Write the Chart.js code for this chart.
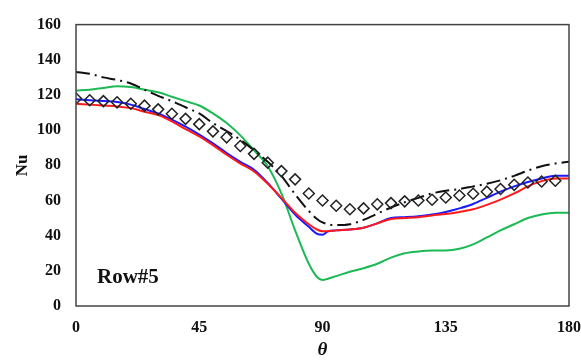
<!DOCTYPE html>
<html>
<head>
<meta charset="utf-8">
<script src="https://cdn.jsdelivr.net/npm/chart.js@4"></script>
<style>
  html, body { margin: 0; padding: 0; background: #fff; }
  #wrap { width: 581px; height: 361px; }
</style>
</head>
<body>
<div id="wrap"><canvas id="nuChart" width="581" height="361"></canvas></div>
<script>
// theta positions for the simulated curves
var thetaLine = [0, 5, 10, 15, 20, 25, 30, 35, 40, 45, 50, 55, 60, 65, 70, 75, 80, 85, 88, 90, 92,
                 95, 100, 105, 110, 115, 120, 125, 130, 135, 140, 145, 150, 155, 160, 165, 170, 175, 180];

var greenNu = [122.5, 123, 124, 125, 124.5, 123, 121.5, 119, 116.5, 114, 109.5, 104, 97, 88.5, 79.5, 64, 43, 24, 16.5, 14.8, 15.5,
               17, 19.5, 21.5, 24, 27.5, 30, 31, 31.5, 31.5, 32.5, 35, 39, 43, 46.5, 50, 52, 53, 53];
var blueNu  = [117.5, 117, 116.5, 116, 114.5, 112, 109.5, 106, 102, 97.5, 92.5, 87, 82, 77.5, 70, 61, 52, 45, 41, 40.5, 42.5,
               43, 43.5, 44.5, 47, 50, 50.5, 51, 52, 53.5, 55.5, 58, 61.5, 65, 68, 70.5, 72.5, 74, 74];
var redNu   = [115, 114.5, 114, 113.5, 112.5, 110.5, 108.5, 105, 100.5, 96.5, 91.5, 86, 81, 76.5, 69.5, 61.5, 53, 46.5, 43.5, 42.5, 42.5,
               43, 43.5, 44.5, 47, 49.5, 50, 50.5, 51.5, 52.3, 53.5, 55, 57.5, 60.5, 64, 68, 71, 72.5, 72.5];
var dashNu  = [133, 132, 130, 128.5, 126.5, 123, 119.5, 116.5, 113, 109.5, 104, 99.5, 94.5, 88.5, 82, 74, 63.5, 54, 49.5, 47.5, 46.5,
               46, 46.5, 49, 52.5, 56, 59, 61.5, 64, 65.5, 66.5, 68, 69.5, 71.5, 74, 77, 79.5, 81, 82];

// experimental points (diamonds)
var thetaExp = [0, 5, 10, 15, 20, 25, 30, 35, 40, 45, 50, 55, 60, 65, 70, 75, 80, 85,
                90, 95, 100, 105, 110, 115, 120, 125, 130, 135, 140, 145, 150, 155, 160, 165, 170, 175];
var expNu    = [118, 117, 116.5, 115.8, 115, 113.9, 111.8, 109.3, 106.4, 103.4, 99.3, 95.9, 91, 86.5, 81.5, 76.7, 72, 64,
                60, 57, 55, 55.5, 57.8, 58.5, 59.5, 60, 60.4, 61.7, 62.8, 63.8, 65, 66.5, 68.9, 70.2, 70.8, 71.2];

var xTicks = [0, 45, 90, 135, 180];
var yTicks = [0, 20, 40, 60, 80, 100, 120, 140, 160];

function pts(xs, ys) {
  return xs.map(function(x, i) { return { x: x, y: ys[i] }; });
}

var serif = 'Liberation Serif';

// frame around the plot + "Row#5" label
var framePlugin = {
  id: 'frame',
  afterDraw: function(chart) {
    var a = chart.chartArea, ctx = chart.ctx;
    ctx.save();
    ctx.strokeStyle = '#444';
    ctx.lineWidth = 1.5;
    ctx.strokeRect(a.left, a.top, a.right - a.left, a.bottom - a.top);
    ctx.fillStyle = '#111';
    ctx.font = 'bold 21px "' + serif + '"';
    ctx.textBaseline = 'alphabetic';
    ctx.fillText('Row#5', a.left + 21, a.bottom - 23);
    ctx.restore();
  }
};

var lineBase = { showLine: true, pointRadius: 0, borderWidth: 2, fill: false, cubicInterpolationMode: 'monotone' };

new Chart(document.getElementById('nuChart'), {
  type: 'scatter',
  data: {
    datasets: [
      { label: 'Exp', data: pts(thetaExp, expNu), showLine: false, pointStyle: 'rectRot', pointRadius: 5.5,
        borderColor: '#222', borderWidth: 1.5, backgroundColor: 'rgba(0,0,0,0)' },
      Object.assign({ label: 'dash', data: pts(thetaLine, dashNu), borderColor: '#111', borderDash: [14, 5, 2, 5] }, lineBase),
      Object.assign({ label: 'red', data: pts(thetaLine, redNu), borderColor: '#ff1a1a' }, lineBase),
      Object.assign({ label: 'blue', data: pts(thetaLine, blueNu), borderColor: '#1a1aff' }, lineBase),
      Object.assign({ label: 'green', data: pts(thetaLine, greenNu), borderColor: '#1db954' }, lineBase)
    ]
  },
  options: {
    responsive: false,
    animation: false,
    layout: { padding: { left: 0, right: 12, top: 15, bottom: 0 } },
    plugins: { legend: { display: false }, tooltip: { enabled: false } },
    scales: {
      x: {
        type: 'linear', min: 0, max: 180,
        grid: { display: false, drawTicks: false }, border: { display: false },
        afterBuildTicks: function(axis) { axis.ticks = xTicks.map(function(v) { return { value: v }; }); },
        ticks: { padding: 12, color: '#111', font: { family: serif, size: 16, weight: 'bold' } },
        title: { display: true, text: 'θ', color: '#111', padding: 0,
                 font: { family: serif, size: 19, weight: 'bold', style: 'italic' } },
        afterFit: function(axis) { axis.height = 55; axis.paddingRight = 0; axis.paddingLeft = 0; }
      },
      y: {
        min: 0, max: 160,
        grid: { display: false, drawTicks: false }, border: { display: false },
        afterBuildTicks: function(axis) { axis.ticks = yTicks.map(function(v) { return { value: v }; }); },
        ticks: { padding: 15, color: '#111', font: { family: serif, size: 16, weight: 'bold' } },
        title: { display: true, text: 'Nu', color: '#111', padding: { top: 12 },
                 font: { family: serif, size: 17, weight: 'bold' } },
        afterFit: function(axis) { axis.width = 76; }
      }
    }
  },
  plugins: [framePlugin]
});
</script>
</body>
</html>
